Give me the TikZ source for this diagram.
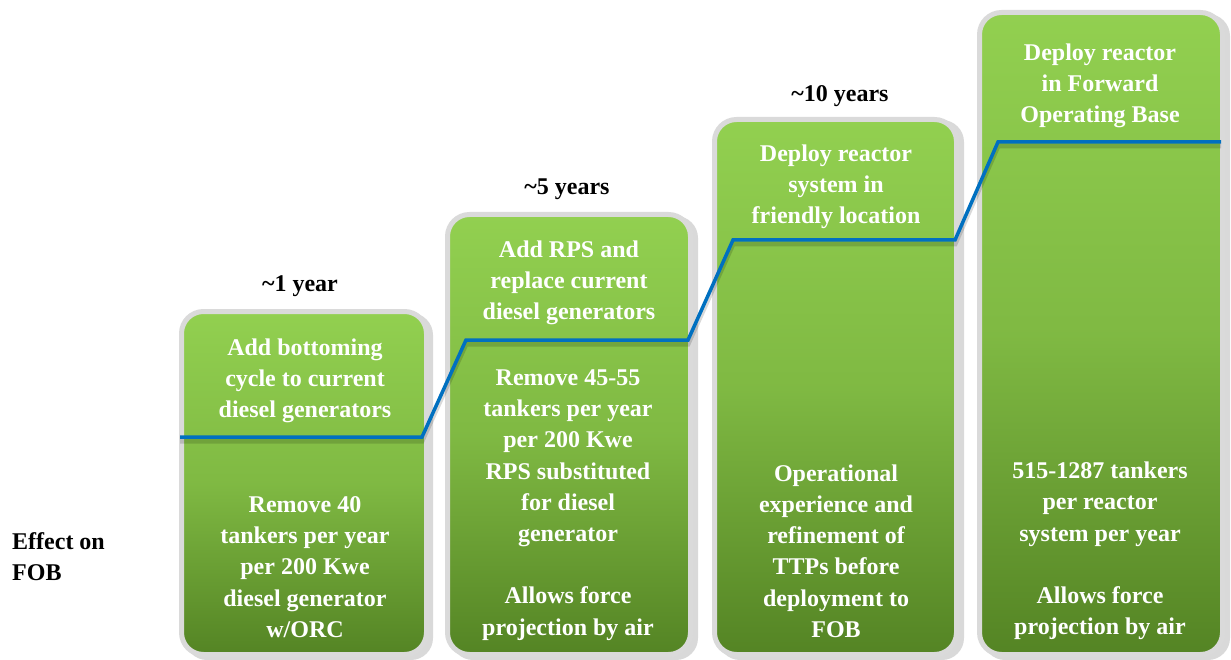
\documentclass[tikz,border=0pt]{standalone}
\usepackage{fontspec}
\setmainfont{Liberation Serif}
\definecolor{steplight}{RGB}{146,208,80}
\definecolor{stepdark}{RGB}{84,132,36}
\definecolor{framegray}{RGB}{218,218,218}
\definecolor{levelblue}{RGB}{0,112,192}
\tikzset{
  stepbox/.style={draw=framegray, line width=5pt, rounded corners=22pt,
    top color=steplight, bottom color=stepdark, middle color=steplight!70!stepdark},
  stepshadow/.style={fill=black, opacity=0.15, rounded corners=22pt},
  steptext/.style={text=white, font=\bfseries\fontsize{24}{31.2}\selectfont, align=center, inner sep=0pt},
  yeartext/.style={text=black, font=\bfseries\fontsize{24}{31.2}\selectfont, inner sep=0pt},
  levelline/.style={draw=levelblue, line width=3.5pt, line join=miter},
}
\begin{document}
\begin{tikzpicture}[x=1pt,y=1pt,yscale=-1,xscale=1]
\useasboundingbox (0,0) rectangle (1231,660);

%Shadows
\fill[stepshadow] (185,313) rectangle (433,660);
\fill[stepshadow] (451,216) rectangle (698,660);
\fill[stepshadow] (718,120) rectangle (964,660);
\fill[stepshadow] (983,14) rectangle (1230,660);

%Rounded Rect [step 1]
\draw[stepbox] (181.5,311.5) rectangle (426.5,654.5);
%Rounded Rect [step 2]
\draw[stepbox] (447.5,214.5) rectangle (690.5,654.5);
%Rounded Rect [step 3]
\draw[stepbox] (714.5,119.5) rectangle (956.5,654.5);
%Rounded Rect [step 4]
\draw[stepbox] (979.5,12.5) rectangle (1222.5,654.5);

%Year labels
\node[yeartext] (yr1) at (300,286) {\textasciitilde1 year};
\node[yeartext] (yr2) at (567,189) {\textasciitilde5 years};
\node[yeartext] (yr3) at (840,96) {\textasciitilde10 years};

%Step actions
\node[steptext] (act1) at (305,381) {Add bottoming\\cycle to current\\diesel generators};
\node[steptext] (act2) at (569,283) {Add RPS and\\replace current\\diesel generators};
\node[steptext] (act3) at (836,187) {Deploy reactor\\system in\\friendly location};
\node[steptext] (act4) at (1100,86) {Deploy reactor\\in Forward\\Operating Base};

%Step effects
\node[steptext] (eff1) at (305,567) {Remove 40\\tankers per year\\per 200 Kwe\\diesel generator\\w/ORC};
\node[steptext] (eff2) at (568,505) {Remove 45-55\\tankers per year\\per 200 Kwe\\RPS substituted\\for diesel\\generator\\[31.2pt]Allows force\\projection by air};
\node[steptext] (eff3) at (836,551) {Operational\\experience and\\refinement of\\TTPs before\\deployment to\\FOB};
\node[steptext] (eff4) at (1100,551) {515-1287 tankers\\per reactor\\system per year\\[31.2pt]Allows force\\projection by air};

%Row label
\node[yeartext, align=left, anchor=west] (effect) at (12,557) {Effect on\\FOB};

%Level line
\coordinate (l0) at (180,437);
\coordinate (l1) at (422,437);
\coordinate (l2) at (466,340);
\coordinate (l3) at (688,340);
\coordinate (l4) at (733,240);
\coordinate (l5) at (955,240);
\coordinate (l6) at (998,142);
\coordinate (l7) at (1221,142);
\draw[black, opacity=0.15, line width=5pt] ([yshift=4pt]l0) -- ([yshift=4pt]l1) -- ([yshift=4pt]l2) -- ([yshift=4pt]l3) -- ([yshift=4pt]l4) -- ([yshift=4pt]l5) -- ([yshift=4pt]l6) -- ([yshift=4pt]l7);
\draw[levelline] (l0) -- (l1) -- (l2) -- (l3) -- (l4) -- (l5) -- (l6) -- (l7);

\end{tikzpicture}
\end{document}
